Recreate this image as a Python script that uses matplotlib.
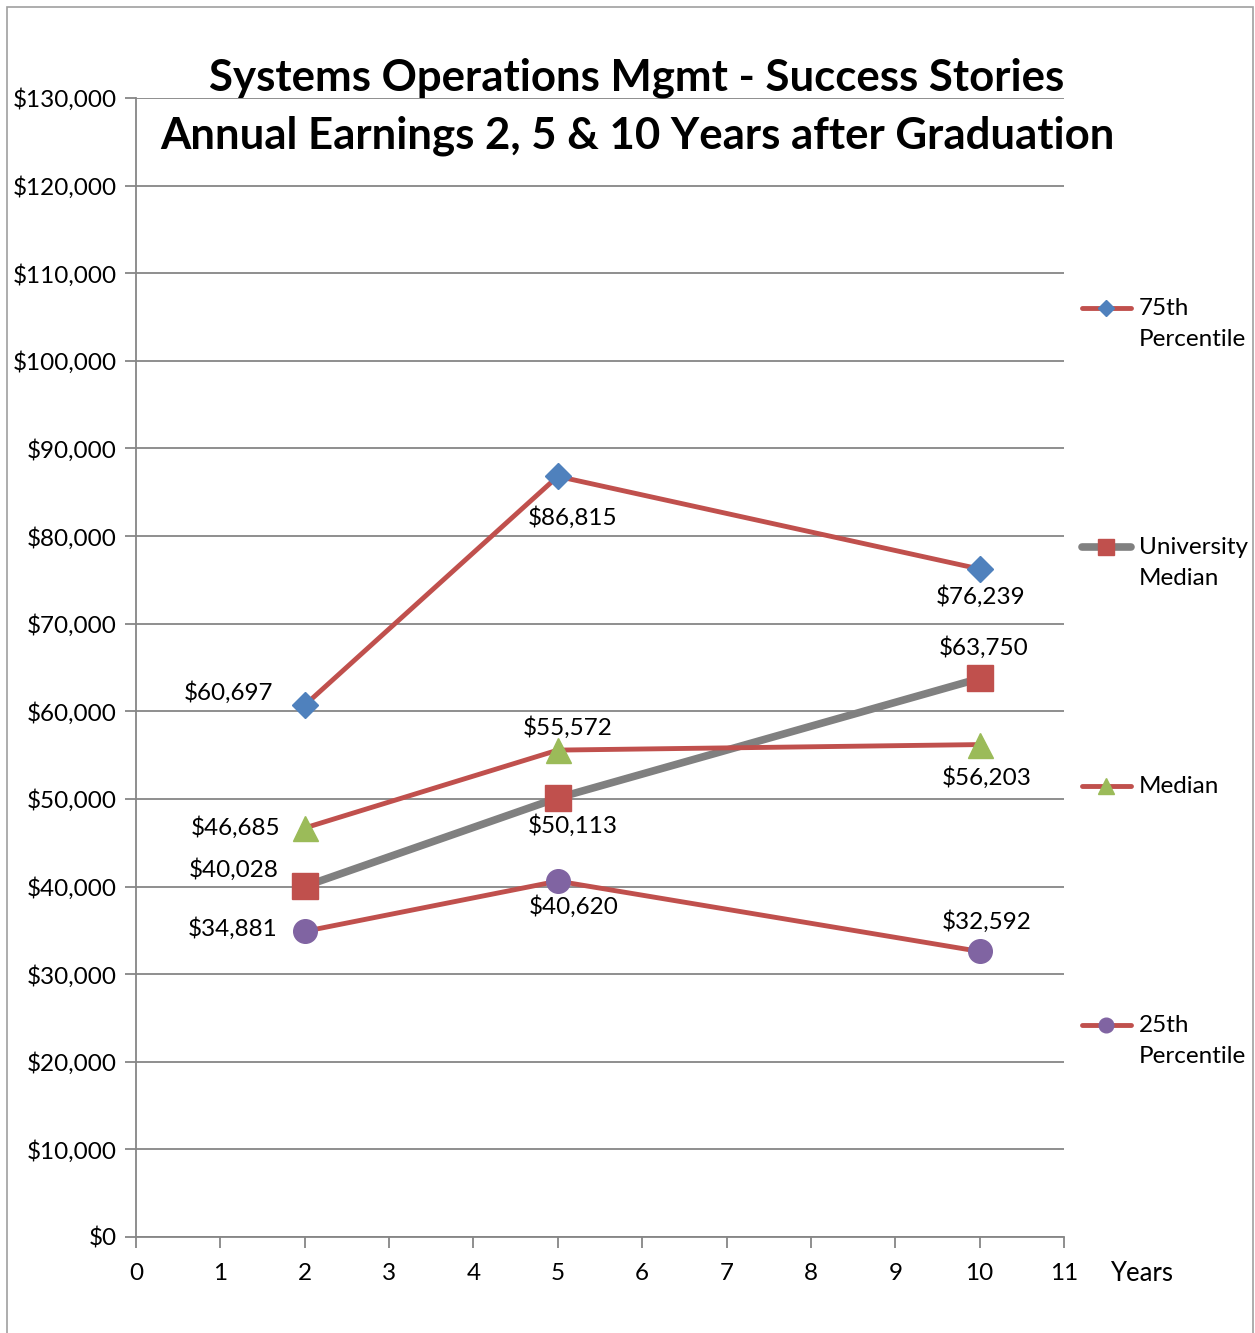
import matplotlib.pyplot as plt
from matplotlib.lines import Line2D
from matplotlib.patches import Rectangle

plt.rcParams['font.family'] = ['Lato', 'DejaVu Sans']

years = [2, 5, 10]
p75 = [60697, 86815, 76239]
univ_median = [40028, 50113, 63750]
median = [46685, 55572, 56203]
p25 = [34881, 40620, 32592]

series_names = ["75th\nPercentile", "University\nMedian", "Median", "25th\nPercentile"]

red = "#C0504D"
gray = "#808080"
grid_c = "#868686"

fig = plt.figure(figsize=(12.55, 13.33), dpi=100)
ax = fig.add_axes([136 / 1255, 96 / 1333, 928 / 1255, 1139 / 1333])

# (values, line colour, line width, marker, marker colour, marker size, label offsets in px)
styles = [
    (p75, red, 3.5, "D", "#4F81BD", 13, [(-76, 13), (15, -41), (1, -27)]),
    (univ_median, gray, 5.5, "s", red, 19, [(-71, 17), (15, -28), (4, 31)]),
    (median, red, 3.5, "^", "#9BBB59", 18, [(-69, 0), (10, 23), (7, -33)]),
    (p25, red, 3.5, "o", "#8064A2", 17, [(-72, 3), (16, -25), (7, 30)]),
]

for vals, lc, lw, mk, mc, ms, offs in styles:
    ax.plot(years, vals, color=lc, lw=lw, marker=mk, markersize=ms,
            markerfacecolor=mc, markeredgecolor=mc, zorder=3)
    for x, v, (dx, dy) in zip(years, vals, offs):
        ax.annotate("${:,}".format(v), (x, v), xytext=(dx, dy),
                    textcoords="offset pixels", ha="center", va="center",
                    fontsize=17.5, zorder=4)

ax.set_xlim(0, 11)
ax.set_ylim(0, 130000)
ax.set_xticks(range(12))
ax.set_yticks(range(0, 130001, 10000))
ax.set_yticklabels(["${:,}".format(v) for v in range(0, 130001, 10000)])
ax.grid(axis="y", color=grid_c, lw=1.3)
ax.set_axisbelow(True)
for s in ["top", "right"]:
    ax.spines[s].set_visible(False)
for s in ["left", "bottom"]:
    ax.spines[s].set_color(grid_c)
    ax.spines[s].set_linewidth(1.3)
ax.tick_params(axis="both", direction="out", length=8, width=1.3, color=grid_c,
               labelsize=17.5, pad=6)
ax.tick_params(axis="x", pad=11)

ax.text(1.05, -0.032, "Years", transform=ax.transAxes, fontsize=18.5, va="center")

fig.text(637 / 1255, 1 - 78 / 1333, "Systems Operations Mgmt - Success Stories",
         ha="center", va="center", fontsize=31.5, fontweight="bold")
fig.text(637 / 1255, 1 - 136 / 1333, "Annual Earnings 2, 5 & 10 Years after Graduation",
         ha="center", va="center", fontsize=31.5, fontweight="bold")

# legend on the right, drawn by hand to follow the original layout
leg_y = [308, 547, 786, 1025]
for (vals, lc, lw, mk, mc, ms, offs), name, y in zip(styles, series_names, leg_y):
    fy = 1 - y / 1333
    fig.add_artist(Line2D([1082 / 1255, 1131 / 1255], [fy, fy], color=lc, lw=lw,
                          solid_capstyle="round", transform=fig.transFigure))
    fig.add_artist(Line2D([1106 / 1255], [fy], marker=mk, markersize=ms * 0.62,
                          color=mc, transform=fig.transFigure))
    fig.text(1139 / 1255, fy + 10 / 1333, name, ha="left", va="top",
             fontsize=17.5, linespacing=1.6)

fig.add_artist(Rectangle((7 / 1255, -0.01), 1246 / 1255, 1 - 7 / 1333 + 0.01,
                         transform=fig.transFigure, fill=False, ec="#A0A0A0", lw=1.2))

fig.savefig("out.png", dpi=100)
